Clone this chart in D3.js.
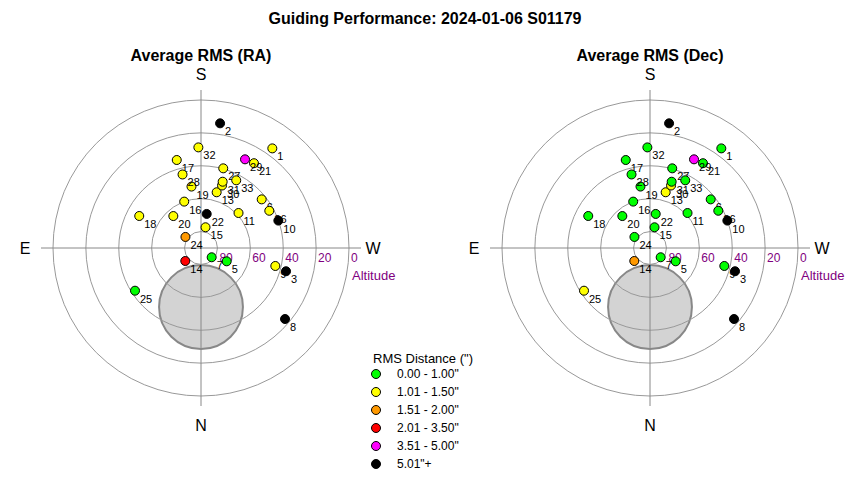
<!DOCTYPE html>
<html>
<head>
<meta charset="utf-8">
<script src="https://cdn.jsdelivr.net/npm/d3@7"></script>
<style>
  body { margin: 0; background: #fff; }
  text { font-family: "Liberation Sans", Arial, sans-serif; }
</style>
</head>
<body>
<svg id="chart" width="850" height="480"></svg>
<script>

// frame ids, in drawing order
var frameIds = [1, 2, 9, 3, 5, 6, 7, 8, 10, 11, 13, 14, 15, 16, 17, 18, 19, 20, 21, 22, 24, 25, 26, 27, 28, 29, 30, 31, 32, 33];
// altitude (deg) and azimuth (deg, N=0, E=90) of each frame
var altitudes = [15.5, 13.3, 43.5, 36.4, 72.4, 42.7, 81.4, 23.1, 40.1, 58.8, 54.8, 77.6, 77.1, 60.0, 34.5, 47.7, 52.2, 64.3, 29.2, 69.0, 78.4, 42.2, 42.7, 39.7, 43.9, 29.8, 49.9, 47.6, 28.8, 43.6];
var azimuths = [215.6, 188.7, 283.6, 285.3, 297.4, 231.3, 311.0, 310.2, 250.5, 227.0, 195.7, 50.4, 192.3, 160.1, 164.6, 117.4, 171.2, 139.1, 212.0, 189.5, 125.4, 57.1, 241.4, 195.6, 165.9, 206.4, 198.6, 198.1, 178.5, 207.5];
// average rms per frame (arcsec)
var rmsRA = [1.21, 5.6, 1.33, 6.2, 0.92, 1.18, 0.95, 7.1, 5.4, 1.12, 1.25, 2.4, 1.09, 1.14, 1.27, 1.31, 1.16, 1.08, 1.22, 5.3, 1.62, 0.88, 1.19, 1.05, 1.11, 4.1, 1.07, 1.03, 1.24, 1.06];
var rmsDec = [0.84, 5.2, 0.79, 5.8, 0.62, 0.81, 0.58, 6.4, 5.1, 0.74, 1.04, 1.55, 0.66, 0.77, 0.91, 0.86, 0.72, 0.69, 0.83, 0.97, 0.93, 1.12, 0.88, 0.71, 0.80, 3.9, 1.02, 0.76, 0.85, 0.68];

var altRings = [0, 20, 40, 60, 80];
var rmsLimits = [1.00, 1.50, 2.00, 3.50, 5.00];
var rmsBins = ["0.00 - 1.00\"", "1.01 - 1.50\"", "1.51 - 2.00\"", "2.01 - 3.50\"", "3.51 - 5.00\"", "5.01\"+"];
var binColors = ["#00ff00", "#ffff00", "#ff9900", "#ff0000", "#ff00ff", "#000000"];

// no-go zone around the pole
var zoneAlt = 54.1, zoneAz = 0, zoneSize = 25.5;

var svg = d3.select("#chart");
var outerR = 148;
var r = d3.scaleLinear().domain([90, 0]).range([0, outerR]);
var colorOf = d3.scaleThreshold().domain(rmsLimits).range(binColors);

function project(alt, az) {
    var a = az * Math.PI / 180;
    return [-r(alt) * Math.sin(a), r(alt) * Math.cos(a)];
}

svg.append("text")
    .attr("x", 425).attr("y", 24)
    .attr("text-anchor", "middle")
    .style("font-size", "16px").style("font-weight", "bold")
    .text("Guiding Performance: 2024-01-06 S01179");

function draw_polar(cx, title, values) {
    var g = svg.append("g").attr("transform", "translate(" + cx + ",248)");

    svg.append("text")
        .attr("x", cx).attr("y", 61)
        .attr("text-anchor", "middle")
        .style("font-size", "16px").style("font-weight", "bold")
        .text(title);

    // zone
    var zc = project(zoneAlt, zoneAz);
    g.append("circle")
        .attr("cx", zc[0]).attr("cy", zc[1])
        .attr("r", r(90 - zoneSize))
        .style("fill", "#d3d3d3")
        .style("stroke", "#888")
        .style("stroke-width", 2);

    g.selectAll("circle.ring")
        .data(altRings)
        .enter().append("circle")
        .attr("class", "ring")
        .attr("r", function(d) { return r(d); })
        .style("fill", "none")
        .style("stroke", "#999");

    g.append("line").attr("x1", -160).attr("x2", 160).attr("y1", 0).attr("y2", 0).style("stroke", "#888");
    g.append("line").attr("x1", 0).attr("x2", 0).attr("y1", -158).attr("y2", 158).style("stroke", "#888");

    var dirs = [["S", 0, -168], ["N", 0, 183], ["E", -176, 6], ["W", 172, 6]];
    g.selectAll("text.dir")
        .data(dirs)
        .enter().append("text")
        .attr("class", "dir")
        .attr("x", function(d) { return d[1]; })
        .attr("y", function(d) { return d[2]; })
        .attr("text-anchor", "middle")
        .style("font-size", "16px")
        .text(function(d) { return d[0]; });

    g.selectAll("text.alt")
        .data(altRings)
        .enter().append("text")
        .attr("class", "alt")
        .attr("x", function(d) { return r(d) + 2; })
        .attr("y", 14)
        .style("font-size", "12px")
        .style("fill", "#800080")
        .text(function(d) { return d; });

    g.append("text")
        .attr("x", outerR + 3).attr("y", 32)
        .style("font-size", "13px")
        .style("fill", "#800080")
        .text("Altitude");

    var pts = g.selectAll("g.pt")
        .data(frameIds)
        .enter().append("g")
        .attr("class", "pt")
        .attr("transform", function(d, i) {
            var p = project(altitudes[i], azimuths[i]);
            return "translate(" + p[0] + "," + p[1] + ")";
        });

    pts.append("circle")
        .attr("r", 4.5)
        .style("fill", function(d, i) { return colorOf(values[i]); })
        .style("stroke", "#000")
        .style("stroke-width", 1);

    pts.append("text")
        .attr("x", 5).attr("y", 12)
        .style("font-size", "11px")
        .text(function(d) { return d; });
}

draw_polar(201, "Average RMS (RA)", rmsRA);
draw_polar(650, "Average RMS (Dec)", rmsDec);

// legend
var legend = svg.append("g").attr("transform", "translate(373,363)");
legend.append("text")
    .style("font-size", "13px")
    .text("RMS Distance (\")");

var items = legend.selectAll("g.item")
    .data(rmsBins)
    .enter().append("g")
    .attr("class", "item")
    .attr("transform", function(d, i) { return "translate(0," + (11 + i * 18) + ")"; });

items.append("circle")
    .attr("cx", 3).attr("r", 4.5)
    .style("fill", function(d, i) { return binColors[i]; })
    .style("stroke", "#000");

items.append("text")
    .attr("x", 24).attr("y", 4)
    .style("font-size", "12px")
    .text(function(d) { return d; });

</script>
</body>
</html>
